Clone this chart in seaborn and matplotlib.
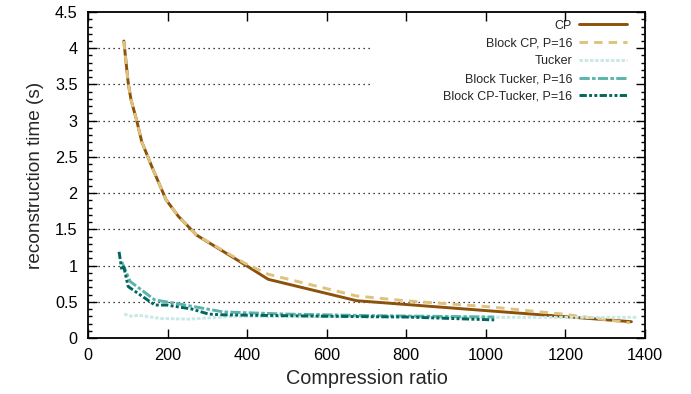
import matplotlib
matplotlib.use("Agg")
import matplotlib.pyplot as plt
from matplotlib.ticker import MultipleLocator, NullLocator
import seaborn as sns

# Reconstruction time versus compression ratio
cp_ratio = [90, 101, 108, 122, 135, 160, 196, 227, 273, 395, 453, 675, 1366]
cp_time = [4.10, 3.52, 3.29, 3.01, 2.71, 2.37, 1.91, 1.68, 1.42, 1.01, 0.81, 0.515, 0.225]

bcp_ratio = [90, 101, 108, 122, 135, 160, 196, 227, 273, 395, 453, 675, 797, 1010, 1194, 1362]
bcp_time = [4.10, 3.52, 3.29, 3.01, 2.71, 2.37, 1.91, 1.68, 1.42, 1.03, 0.88, 0.58, 0.515, 0.43, 0.33, 0.21]

tucker_ratio = [91, 110, 127, 181, 252, 281, 365, 500, 800, 1100, 1379]
tucker_time = [0.33, 0.30, 0.315, 0.27, 0.26, 0.27, 0.30, 0.295, 0.29, 0.285, 0.285]

btucker_ratio = [85, 106, 168, 219, 340, 500, 700, 1021]
btucker_time = [1.05, 0.78, 0.525, 0.48, 0.36, 0.33, 0.31, 0.29]

bcpt_ratio = [78, 85, 90, 101, 168, 198, 261, 303, 340, 600, 800, 1021]
bcpt_time = [1.19, 0.94, 0.98, 0.71, 0.455, 0.455, 0.40, 0.33, 0.32, 0.30, 0.29, 0.25]

series = [
    ("CP", cp_ratio, cp_time, "#8c510a", "-"),
    ("Block CP, P=16", bcp_ratio, bcp_time, "#dfc27d", (0, (2.9, 2.1))),
    ("Tucker", tucker_ratio, tucker_time, "#c7eae5", (0, (1.2, 0.6))),
    ("Block Tucker, P=16", btucker_ratio, btucker_time, "#5ab4ac", (0, (3.5, 0.8, 1.2, 0.8))),
    ("Block CP-Tucker, P=16", bcpt_ratio, bcpt_time, "#01665e", (0, (2.5, 0.8, 1.0, 0.8, 1.0, 0.8))),
]

sns.set_style("white")
plt.rcParams["font.family"] = ["Liberation Sans", "DejaVu Sans"]

fig = plt.figure(figsize=(6.91, 3.94), dpi=100)
ax = fig.add_axes([0.1274, 0.1421, 0.806, 0.8274])

for label, xs, ys, color, ls in series:
    sns.lineplot(x=xs, y=ys, ax=ax, color=color, linestyle=ls, linewidth=2.1,
                 sort=False, label=label, estimator=None)

ax.set_xlim(0, 1400)
ax.set_ylim(0, 4.5)
ax.xaxis.set_major_locator(MultipleLocator(200))
ax.xaxis.set_minor_locator(NullLocator())
ax.set_yticks([0, 0.5, 1, 1.5, 2, 2.5, 3, 3.5, 4, 4.5])
ax.set_yticklabels(["0", "0.5", "1", "1.5", "2", "2.5", "3", "3.5", "4", "4.5"])
ax.yaxis.set_minor_locator(MultipleLocator(0.1))

ax.tick_params(which="both", direction="in", top=True, right=True, bottom=True, left=True,
               colors="black", labelsize=11.7, width=1)
ax.tick_params(which="major", length=6.3, pad=7.5)
ax.tick_params(which="minor", length=3)

# dotted horizontal grid; the upper two stop short of the key
for v in [0.5, 1, 1.5, 2, 2.5, 3]:
    ax.axhline(v, color="black", linewidth=0.9, linestyle=(0, (1, 3)), zorder=0.5)
for v in [3.5, 4]:
    ax.plot([0, 709], [v, v], color="black", linewidth=0.9, linestyle=(0, (1, 3)), zorder=0.5)

for sp in ax.spines.values():
    sp.set_color("black")
    sp.set_linewidth(1.3)
    sp.set_visible(True)

ax.set_xlabel("Compression ratio", fontsize=14.3, labelpad=4)
ax.set_ylabel("reconstruction time (s)", fontsize=13.7, labelpad=8)

leg = ax.legend(loc="upper right", bbox_to_anchor=(0.9677, 0.976), markerfirst=False,
                fontsize=9.0, handlelength=3.84, frameon=False,
                borderaxespad=0, borderpad=0, labelspacing=0.46, handletextpad=0.55)
leg.set_zorder(3)

fig.savefig("out.png", dpi=100)
